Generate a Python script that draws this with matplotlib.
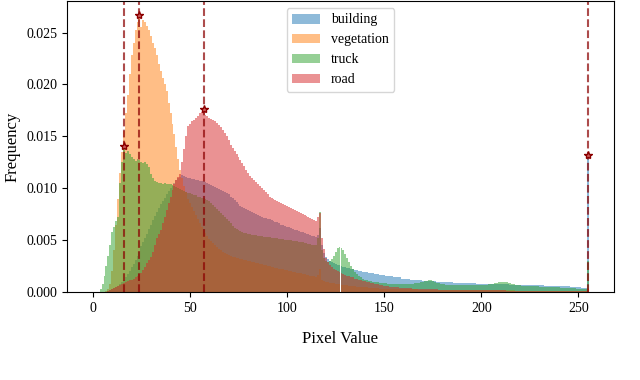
import numpy as np
import matplotlib
matplotlib.use('Agg')
import matplotlib.pyplot as plt

plt.rcParams['font.family'] = 'serif'
plt.rcParams['font.serif'] = ['Liberation Serif', 'DejaVu Serif']

# histogram values per pixel value 0..255, in units of 1e-4
building = [
    0, 0, 0, 0, 0, 0, 0, 0, 1, 2,
    3, 4, 5, 6, 8, 10, 12, 14, 17, 20,
    24, 27, 31, 35, 39, 44, 48, 52, 56, 61,
    65, 69, 73, 77, 81, 85, 88, 91, 94, 97,
    100, 102, 105, 108, 110, 111, 113, 112, 111, 110,
    110, 109, 109, 108, 108, 107, 107, 107, 106, 105,
    104, 103, 102, 101, 100, 99, 98, 97, 96, 95,
    94, 92, 91, 89, 87, 85, 83, 82, 81, 80,
    79, 78, 77, 76, 75, 74, 73, 72, 71, 71,
    70, 70, 69, 68, 67, 67, 66, 65, 65, 64,
    63, 63, 62, 61, 60, 60, 59, 58, 58, 57,
    56, 56, 55, 54, 54, 53, 55, 62, 45, 38,
    34, 32, 30, 29, 28, 27, 26, 26, 25, 24,
    24, 23, 23, 22, 22, 21, 21, 20, 20, 19,
    19, 19, 18, 18, 18, 17, 17, 17, 16, 16,
    16, 15, 15, 15, 15, 14, 14, 14, 14, 13,
    13, 13, 13, 13, 12, 12, 12, 12, 12, 12,
    11, 11, 11, 11, 11, 11, 11, 10, 10, 10,
    10, 10, 10, 10, 10, 10, 9, 9, 9, 9,
    9, 9, 9, 9, 9, 9, 9, 9, 8, 8,
    8, 8, 8, 8, 8, 8, 8, 8, 8, 8,
    8, 8, 8, 8, 8, 7, 7, 7, 7, 7,
    7, 7, 7, 7, 7, 7, 7, 7, 7, 7,
    7, 7, 7, 6, 6, 6, 6, 6, 6, 6,
    6, 6, 6, 6, 6, 6, 5, 5, 5, 5,
    5, 5, 4, 4, 4, 132,
]

vegetation = [
    0, 0, 0, 0, 0, 0, 0, 1, 3, 8,
    20, 40, 65, 90, 115, 135, 155, 172, 190, 210,
    228, 240, 252, 260, 267, 255, 262, 260, 256, 252,
    247, 240, 235, 228, 220, 213, 206, 200, 194, 182,
    172, 162, 152, 140, 128, 118, 110, 102, 96, 90,
    86, 82, 78, 74, 70, 66, 63, 60, 57, 54,
    51, 49, 47, 45, 43, 41, 40, 39, 38, 37,
    36, 35, 34, 34, 33, 33, 32, 32, 31, 31,
    30, 30, 29, 29, 28, 28, 27, 27, 26, 26,
    25, 25, 24, 24, 23, 23, 22, 22, 22, 21,
    21, 20, 20, 19, 19, 18, 18, 18, 17, 17,
    16, 16, 15, 15, 15, 14, 16, 22, 12, 11,
    10, 10, 9, 9, 9, 8, 8, 8, 7, 7,
    7, 7, 6, 6, 6, 6, 5, 5, 5, 5,
    5, 5, 4, 4, 4, 4, 4, 4, 3, 3,
    3, 3, 3, 3, 3, 3, 3, 3, 3, 3,
    3, 3, 3, 3, 3, 3, 3, 3, 2, 2,
    2, 2, 2, 2, 2, 2, 2, 2, 2, 2,
    2, 2, 2, 2, 2, 2, 2, 2, 2, 2,
    2, 2, 2, 2, 2, 2, 2, 2, 2, 2,
    2, 2, 2, 2, 2, 2, 2, 2, 2, 2,
    2, 2, 2, 2, 2, 2, 2, 2, 1, 1,
    1, 1, 1, 1, 1, 1, 1, 1, 1, 1,
    1, 1, 1, 1, 1, 1, 1, 1, 1, 1,
    1, 1, 1, 1, 1, 1, 1, 1, 1, 1,
    1, 1, 1, 1, 1, 4,
]

truck = [
    0, 0, 0, 0, 3, 8, 15, 25, 35, 45,
    58, 63, 68, 72, 105, 125, 141, 134, 136, 133,
    130, 128, 126, 128, 127, 125, 124, 125, 123, 120,
    114, 110, 107, 106, 105, 105, 104, 105, 104, 104,
    104, 103, 102, 101, 100, 99, 98, 97, 96, 95,
    95, 94, 93, 93, 92, 92, 91, 91, 90, 89,
    88, 86, 84, 82, 80, 78, 76, 74, 72, 70,
    68, 66, 64, 62, 61, 60, 59, 58, 57, 57,
    56, 56, 55, 55, 55, 54, 54, 54, 53, 53,
    53, 53, 52, 52, 52, 52, 51, 51, 51, 50,
    50, 50, 50, 49, 49, 49, 48, 48, 48, 47,
    47, 46, 46, 45, 45, 45, 52, 77, 40, 33,
    30, 29, 30, 32, 35, 39, 42, 43, 42, 40,
    37, 33, 29, 25, 22, 19, 17, 15, 14, 13,
    12, 12, 11, 11, 10, 10, 10, 10, 9, 9,
    9, 9, 8, 8, 8, 8, 8, 8, 8, 8,
    8, 8, 8, 8, 8, 8, 9, 9, 9, 10,
    10, 11, 11, 12, 12, 11, 10, 9, 9, 8,
    8, 8, 7, 7, 7, 7, 7, 7, 7, 7,
    7, 7, 7, 7, 7, 7, 7, 7, 7, 7,
    7, 7, 7, 7, 8, 8, 8, 9, 9, 10,
    10, 10, 10, 10, 9, 9, 8, 8, 7, 7,
    7, 6, 6, 6, 6, 6, 6, 6, 6, 6,
    5, 5, 5, 5, 5, 5, 5, 5, 5, 5,
    5, 4, 4, 4, 4, 4, 4, 4, 4, 3,
    3, 3, 3, 3, 3, 30,
]

road = [
    0, 0, 0, 0, 0, 0, 0, 0, 1, 2,
    3, 4, 5, 6, 7, 8, 9, 10, 11, 12,
    12, 13, 14, 15, 17, 18, 21, 24, 28, 31,
    34, 39, 45, 52, 56, 60, 66, 72, 79, 86,
    92, 98, 104, 108, 111, 114, 125, 138, 150, 160,
    162, 165, 166, 168, 170, 172, 173, 176, 171, 170,
    168, 167, 166, 165, 163, 161, 159, 156, 153, 150,
    146, 142, 139, 136, 133, 130, 127, 124, 121, 118,
    115, 112, 110, 108, 106, 104, 102, 100, 98, 96,
    94, 92, 91, 90, 89, 88, 87, 86, 85, 84,
    83, 82, 81, 80, 79, 78, 77, 76, 75, 74,
    73, 72, 71, 70, 69, 68, 72, 76, 52, 41,
    33, 29, 26, 24, 22, 21, 20, 19, 18, 17,
    16, 15, 15, 14, 14, 13, 13, 12, 12, 11,
    11, 10, 10, 9, 9, 8, 8, 8, 7, 7,
    6, 6, 6, 5, 5, 5, 5, 5, 4, 4,
    4, 4, 4, 4, 4, 3, 3, 3, 3, 3,
    3, 3, 3, 3, 3, 3, 3, 3, 2, 2,
    2, 2, 2, 2, 2, 2, 2, 2, 2, 2,
    2, 2, 2, 2, 2, 2, 2, 2, 2, 2,
    2, 2, 2, 2, 2, 2, 2, 2, 2, 2,
    2, 2, 2, 1, 1, 1, 1, 1, 1, 1,
    1, 1, 1, 1, 1, 1, 1, 1, 1, 1,
    1, 1, 1, 1, 1, 1, 1, 1, 1, 1,
    1, 1, 1, 1, 1, 1, 1, 1, 1, 1,
    1, 1, 1, 1, 1, 3,
]

labels = ['building', 'vegetation', 'truck', 'road']
colors = ['tab:blue', 'tab:orange', 'tab:green', 'tab:red']
pixels = np.arange(256)

fig = plt.figure(figsize=(6.4, 3.8), dpi=100)
ax = fig.add_axes([67 / 640, 88 / 380, 547 / 640, 291 / 380])

series = [building, vegetation, truck, road]
for vals, lab, col in zip(series, labels, colors):
    ax.bar(pixels, np.array(vals) / 1e4, width=1.0, color=col, alpha=0.5,
           label=lab, linewidth=0)

for vals in series:
    freq = np.array(vals) / 1e4
    i = int(np.argmax(freq))
    ax.axvline(i, color='darkred', linestyle='--', linewidth=1.5, alpha=0.7)
    ax.plot(i, freq[i], marker='*', markersize=6, color='indianred',
            markeredgecolor='darkred', markeredgewidth=1.0)

ax.set_xticks([0, 50, 100, 150, 200, 250])
ax.tick_params(labelsize=10)
ax.set_xlabel('Pixel Value', fontsize=12, labelpad=12)
ax.set_ylabel('Frequency', fontsize=12, labelpad=4)
ax.legend(loc='upper center', fontsize=10)

fig.savefig('out.png', dpi=100)
